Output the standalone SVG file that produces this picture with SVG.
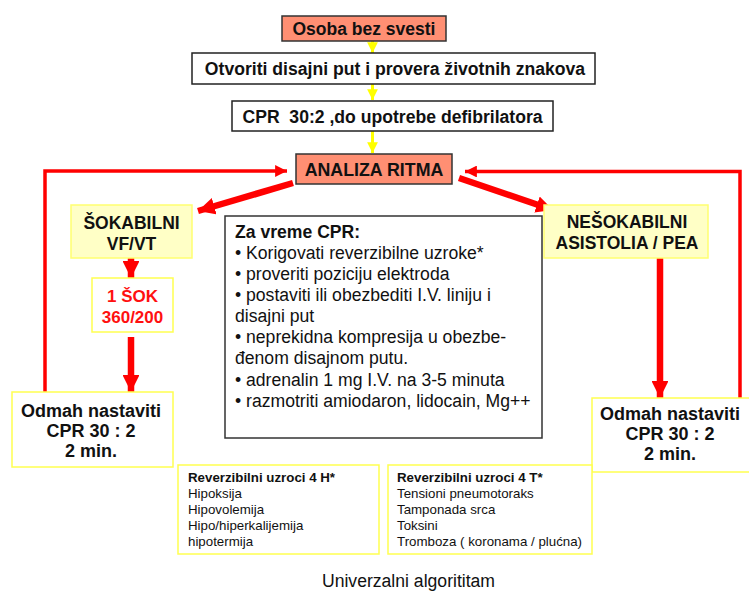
<svg xmlns="http://www.w3.org/2000/svg" width="749" height="592" viewBox="0 0 749 592">
<defs>
<style>
text{font-family:"Liberation Sans",Arial,sans-serif;fill:#111;white-space:pre}
.b{font-weight:bold}
.c{text-anchor:middle}
.salmon{fill:#FF8F73;stroke:#333;stroke-width:1.5}
.white{fill:#fff;stroke:#222;stroke-width:1.5}
.ly{fill:#FFFFC6;stroke:#FFFF70;stroke-width:1.5}
.wy{fill:#fff;stroke:#FFFF50;stroke-width:1.5}
.ya{stroke:#FFFF00;stroke-width:3;fill:none}
.rt{stroke:#FF0000;stroke-width:3.5;fill:none}
.rk{stroke:#FF0000;stroke-width:6.5;fill:none}
</style>
<marker id="yh" viewBox="0 0 10 10" refX="10" refY="5" markerWidth="3.6" markerHeight="3.6" orient="auto" markerUnits="strokeWidth"><path d="M0,0 L10,5 L0,10 Z" fill="#FFFF00"/></marker>
<marker id="rh" viewBox="0 0 10 10" refX="10" refY="5" markerWidth="3.4" markerHeight="3.4" orient="auto" markerUnits="strokeWidth"><path d="M0,0 L10,5 L0,10 Z" fill="#FF0000"/></marker>
<marker id="rk" viewBox="0 0 10 10" refX="10" refY="5" markerWidth="2.6" markerHeight="2.6" orient="auto" markerUnits="strokeWidth"><path d="M0,0 L10,5 L0,10 Z" fill="#FF0000"/></marker>
</defs>

<g id="connectors">
<line class="ya" x1="372.5" y1="41" x2="372.5" y2="53" marker-end="url(#yh)"/>
<line class="ya" x1="372.5" y1="84" x2="372.5" y2="100" marker-end="url(#yh)"/>
<line class="ya" x1="372.5" y1="131" x2="372.5" y2="153" marker-end="url(#yh)"/>
<polyline class="rt" points="45,392 45,171 287,171" marker-end="url(#rh)"/>
<polyline class="rt" points="740,398 740,171.5 465,171.5" marker-end="url(#rh)"/>
<line class="rk" x1="293" y1="183" x2="198" y2="211" marker-end="url(#rk)"/>
<line class="rk" x1="459" y1="178" x2="553" y2="210" marker-end="url(#rk)"/>
<line class="rk" x1="131" y1="258" x2="131" y2="278" marker-end="url(#rk)"/>
<line class="rk" x1="131" y1="337" x2="131" y2="392" marker-end="url(#rk)"/>
<line class="rk" x1="660" y1="258" x2="660" y2="398" marker-end="url(#rk)"/>
</g>

<g id="osoba">
<rect class="salmon" x="282" y="16" width="164" height="25"/>
<text class="b c" x="364" y="34.5" font-size="17.5">Osoba bez svesti</text>
</g>

<g id="otvoriti">
<rect class="white" x="192" y="53" width="403" height="31"/>
<text class="b c" x="395" y="75" font-size="17.6">Otvoriti disajni put i provera životnih znakova</text>
</g>

<g id="cpr">
<rect class="white" x="232" y="101" width="321" height="30"/>
<text class="b c" x="392.5" y="122.5" font-size="17.6">CPR  30:2 ,do upotrebe defibrilatora</text>
</g>

<g id="analiza">
<rect class="salmon" x="296" y="154" width="156" height="30"/>
<text class="b c" x="374" y="176" font-size="17.8">ANALIZA RITMA</text>
</g>

<g id="sokabilni">
<rect class="ly" x="71" y="205" width="121" height="53"/>
<text class="b c" x="131.5" y="229" font-size="17.5">ŠOKABILNI</text>
<text class="b c" x="131.5" y="250" font-size="17.5">VF/VT</text>
</g>

<g id="sok">
<rect class="wy" x="92" y="278" width="81" height="54"/>
<text class="b c" x="132.5" y="302" font-size="17" style="fill:#FF1010">1 ŠOK</text>
<text class="b c" x="132.5" y="323" font-size="17" style="fill:#FF1010">360/200</text>
</g>

<g id="odmah-left">
<rect class="wy" x="12" y="392" width="161" height="75"/>
<text class="b c" x="91" y="417" font-size="18">Odmah nastaviti</text>
<text class="b c" x="91" y="437" font-size="18">CPR 30 : 2</text>
<text class="b c" x="91" y="457" font-size="18">2 min.</text>
</g>

<g id="za-vreme">
<rect class="white" x="225" y="216" width="317" height="222" style="stroke:#333"/>
<text x="235" y="238" font-size="17.6" class="b">Za vreme CPR:</text>
<text x="235" y="259" font-size="17.6">• Korigovati reverzibilne uzroke*</text>
<text x="235" y="280" font-size="17.6">• proveriti poziciju elektroda</text>
<text x="235" y="301" font-size="17.6">• postaviti ili obezbediti I.V. liniju i</text>
<text x="235" y="322" font-size="17.6">disajni put</text>
<text x="235" y="343" font-size="17.6">• neprekidna kompresija u obezbe-</text>
<text x="235" y="364" font-size="17.6">đenom disajnom putu.</text>
<text x="235" y="386" font-size="17.6">• adrenalin 1 mg I.V. na 3-5 minuta</text>
<text x="235" y="407" font-size="17.6">• razmotriti amiodaron, lidocain, Mg++</text>
</g>

<g id="nesokabilni">
<rect class="ly" x="544" y="205" width="164" height="53"/>
<text class="b c" x="627" y="228" font-size="17.5">NEŠOKABILNI</text>
<text class="b c" x="627" y="249" font-size="17.5">ASISTOLIA / PEA</text>
</g>

<g id="odmah-right">
<rect class="wy" x="592" y="398" width="160" height="74"/>
<text class="b c" x="670" y="420" font-size="18">Odmah nastaviti</text>
<text class="b c" x="670" y="440" font-size="18">CPR 30 : 2</text>
<text class="b c" x="670" y="460" font-size="18">2 min.</text>
</g>

<g id="uzroci-h">
<rect class="wy" x="178" y="465" width="201" height="89"/>
<text x="188" y="482" font-size="13.3" class="b">Reverzibilni uzroci 4 H*</text>
<text x="188" y="498" font-size="13.3">Hipoksija</text>
<text x="188" y="514" font-size="13.3">Hipovolemija</text>
<text x="188" y="530" font-size="13.3">Hipo/hiperkalijemija</text>
<text x="188" y="546" font-size="13.3">hipotermija</text>
</g>

<g id="uzroci-t">
<rect class="wy" x="388" y="465" width="204" height="89"/>
<text x="397" y="482" font-size="13.3" class="b">Reverzibilni uzroci 4 T*</text>
<text x="397" y="498" font-size="13.3">Tensioni pneumotoraks</text>
<text x="397" y="514" font-size="13.3">Tamponada srca</text>
<text x="397" y="530" font-size="13.3">Toksini</text>
<text x="397" y="546" font-size="13.3">Tromboza ( koronama / plućna)</text>
</g>

<g id="caption">
<text class="c" x="408.5" y="587" font-size="17.6">Univerzalni algorititam</text>
</g>
</svg>
